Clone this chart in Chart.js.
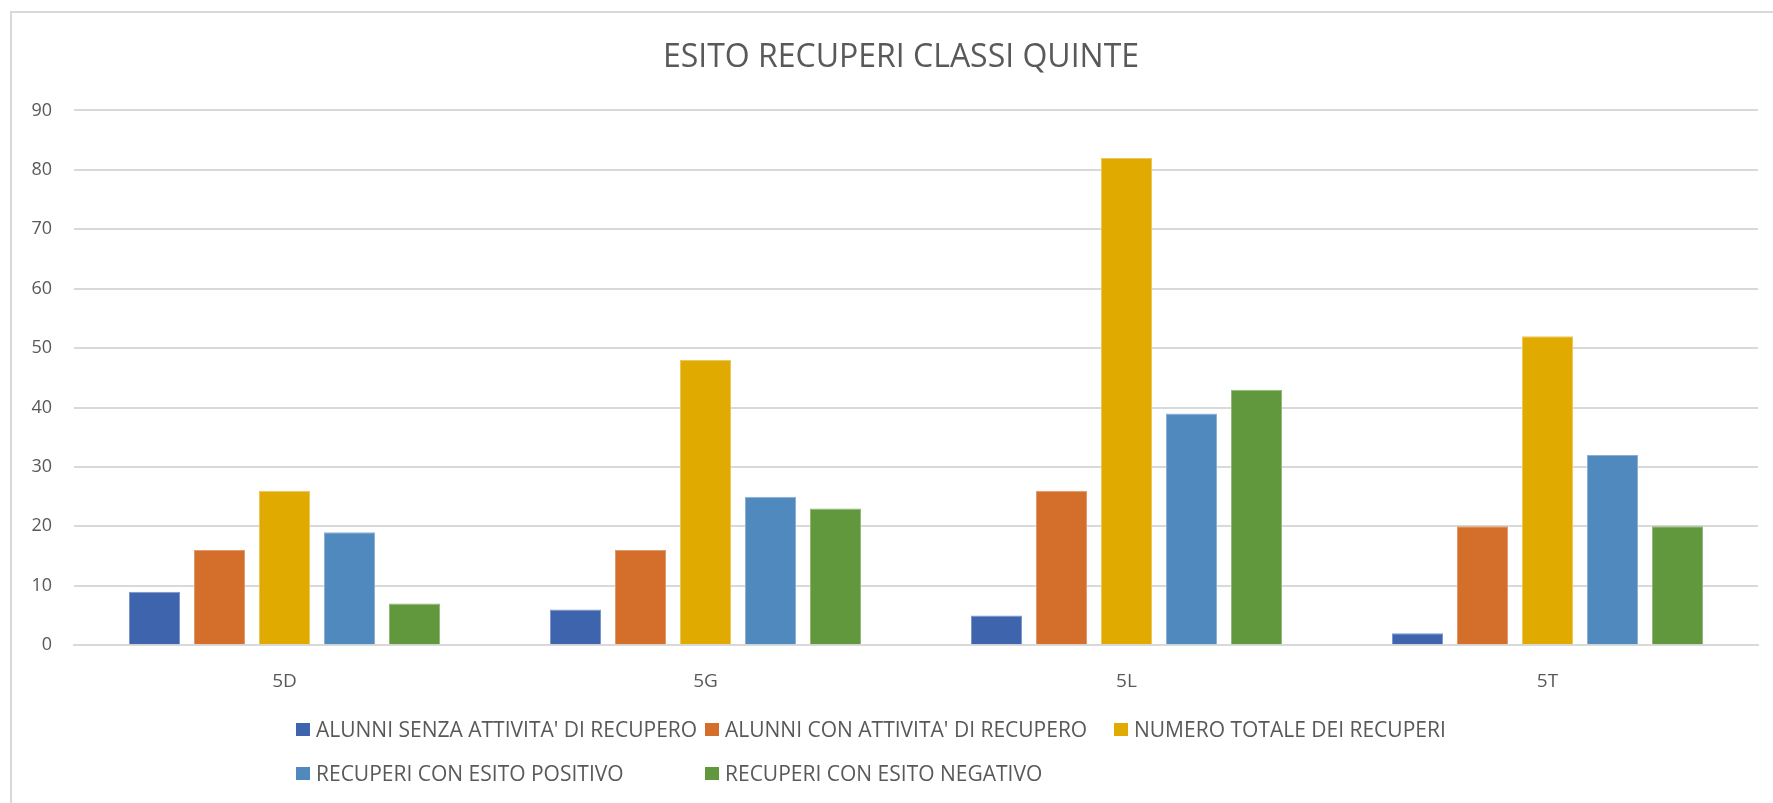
<!DOCTYPE html>
<html>
<head>
<meta charset="utf-8">
<script src="https://cdn.jsdelivr.net/npm/chart.js@4/dist/chart.umd.min.js"></script>
<style>
  html, body { margin: 0; padding: 0; background: #fff; overflow: hidden; }
  #wrap { position: relative; width: 1773px; height: 803px; overflow: hidden; }
  #cornice { position: absolute; left: 10px; top: 11px; width: 1800px; height: 820px;
             border-left: 2px solid #d9d9d9; border-top: 2px solid #d9d9d9; }
  #grafico { position: absolute; left: 0; top: 0; }
  #legenda { position: absolute; left: 296px; top: 716px; display: grid;
             grid-template-columns: 409px 409px 409px; row-gap: 18px;
             font-family: "Open Sans", sans-serif; font-size: 21px; color: #595959; }
  .voce { display: flex; align-items: center; height: 26px; white-space: nowrap; }
  .voce span.box { display: inline-block; width: 14px; height: 13px; margin-right: 6px; }
</style>
</head>
<body>
<div id="wrap">
  <div id="cornice"></div>
  <canvas id="grafico" width="1773" height="803"></canvas>
  <div id="legenda"></div>
</div>
<script>
// Dati
const classi = ['5D', '5G', '5L', '5T'];
const serieNomi = [
    "ALUNNI SENZA ATTIVITA' DI RECUPERO",
    "ALUNNI CON ATTIVITA' DI RECUPERO",
    "NUMERO TOTALE DEI RECUPERI",
    "RECUPERI CON ESITO POSITIVO",
    "RECUPERI CON ESITO NEGATIVO"
];
const alunniSenza = [9, 6, 5, 2];
const alunniCon = [16, 16, 26, 20];
const totaleRecuperi = [26, 48, 82, 52];
const esitoPositivo = [19, 25, 39, 32];
const esitoNegativo = [7, 23, 43, 20];
const tickY = [0, 10, 20, 30, 40, 50, 60, 70, 80, 90];

const colori = ['#3d64ad', '#d36e2b', '#e0aa00', '#4f89be', '#62983d'];
const bordi = ['#7d97c8', '#e09a6c', '#ecc75a', '#8bb2d6', '#94b878'];

const valori = [alunniSenza, alunniCon, totaleRecuperi, esitoPositivo, esitoNegativo];

const datasets = serieNomi.map((nome, i) => ({
    label: nome,
    data: valori[i],
    backgroundColor: colori[i],
    borderColor: bordi[i],
    borderWidth: 1,
    categoryPercentage: 0.772,
    barPercentage: 0.785
}));

// il titolo nell'originale è centrato su tutta la cornice, non sull'area utile
const spostaTitolo = {
    id: 'spostaTitolo',
    afterLayout(chart) {
        if (chart.titleBlock) chart.titleBlock.left = 44;
    }
};

const ctx = document.getElementById('grafico').getContext('2d');
const grafico = new Chart(ctx, {
    type: 'bar',
    data: { labels: classi, datasets: datasets },
    plugins: [spostaTitolo],
    options: {
        responsive: false,
        animation: false,
        devicePixelRatio: 1,
        layout: { padding: { left: 0, right: 15, top: 0, bottom: 93 } },
        plugins: {
            legend: { display: false },
            tooltip: { enabled: false },
            title: {
                display: true,
                text: 'ESITO RECUPERI CLASSI QUINTE',
                color: '#595959',
                font: { family: 'Open Sans', size: 32, weight: 'normal', lineHeight: 1.2 },
                padding: { top: 39, bottom: 33 }
            }
        },
        scales: {
            x: {
                grid: { display: false },
                border: { display: true, color: '#d9d9d9', width: 2 },
                ticks: {
                    color: '#595959',
                    padding: 17,
                    font: { family: 'Open Sans', size: 19, lineHeight: 1.2 }
                }
            },
            y: {
                min: 0,
                max: 90,
                afterFit: (scala) => { scala.width = 74; },
                afterBuildTicks: (scala) => { scala.ticks = tickY.map(v => ({ value: v })); },
                grid: { color: '#d9d9d9', lineWidth: 2, drawTicks: false },
                border: { display: false },
                ticks: {
                    color: '#595959',
                    padding: 22,
                    font: { family: 'Open Sans', size: 18 }
                }
            }
        }
    }
});

// Legenda in colonne, come nell'originale
const legenda = document.getElementById('legenda');
grafico.data.datasets.forEach((ds) => {
    const voce = document.createElement('div');
    voce.className = 'voce';
    const box = document.createElement('span');
    box.className = 'box';
    box.style.background = ds.backgroundColor;
    voce.appendChild(box);
    voce.appendChild(document.createTextNode(ds.label));
    legenda.appendChild(voce);
});
</script>
</body>
</html>
